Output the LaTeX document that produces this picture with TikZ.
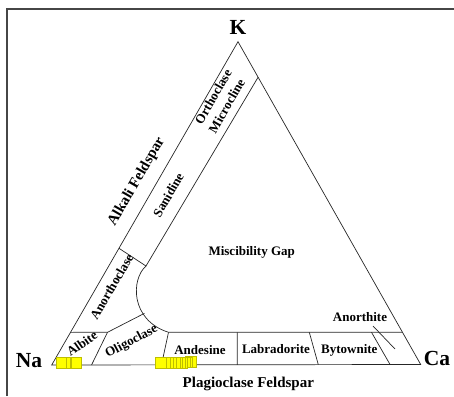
\documentclass[tikz,border=0pt]{standalone}
\usepackage{fontspec}
\setmainfont{Liberation Serif}
\usetikzlibrary{calc}
\definecolor{sqfill}{RGB}{255,255,0}
\definecolor{sqedge}{RGB}{190,190,0}
\definecolor{framec}{RGB}{70,70,70}
\tikzset{
  lbl/.style={inner sep=0pt, font=\fontsize{13}{13}\selectfont\bfseries},
  big/.style={inner sep=0pt, font=\fontsize{15}{15}\selectfont\bfseries},
  apex/.style={inner sep=0pt, font=\fontsize{21.5}{21.5}\selectfont\bfseries},
  edge/.style={draw=black!85, line width=0.7pt},
  sq/.style={fill=sqfill, draw=sqedge, line width=0.6pt},
}
\begin{document}
\begin{tikzpicture}[x=1pt,y=-1pt]
\useasboundingbox (0,0) rectangle (454,396);
% frame
\draw[framec, line width=1.6pt] (7,396) -- (7,9) -- (454,9);
% vertices
\coordinate (K) at (238,41.7);
\coordinate (Na) at (51.7,365);
\coordinate (Ca) at (420.7,364.5);
\draw[edge] (Na) -- (K) -- (Ca) -- cycle;
% alkali band
\coordinate (A1) at ($(K)!0.110!(Ca)$);
\coordinate (A2) at (146,266);
\coordinate (A3) at ($(K)!0.639!(Na)$);
\draw[edge] (A1) -- (A2);
\draw[edge] (A3) -- (A2);
% curve
\coordinate (P1) at (168.5,332.3);
\draw[edge] (A2) .. controls (131,279) and (130,320) .. (P1);
% plagioclase band
\coordinate (L1) at ($(K)!0.899!(Na)$);
\coordinate (R1) at ($(K)!0.900!(Ca)$);
\coordinate (O1) at (144.5,313.3);
\coordinate (O2) at (107.5,332.3);
\draw[edge] (L1) -- (O2) -- (O1);
\draw[edge] (P1) -- (R1);
\coordinate (B1) at ($(Na)!0.108!(Ca)$);
\draw[edge] (O2) -- (B1);
\coordinate (B2) at ($(Na)!0.2975!(Ca)$);
\draw[edge] (P1) -- (B2);
\coordinate (T3) at (237.3,332.3);
\coordinate (B3) at ($(Na)!0.503!(Ca)$);
\draw[edge] (T3) -- (B3);
\coordinate (T4) at (309.3,332.3);
\coordinate (B4) at ($(Na)!0.7225!(Ca)$);
\draw[edge] (T4) -- (B4);
\coordinate (T5) at (371.5,332.3);
\coordinate (B5) at ($(Na)!0.917!(Ca)$);
\draw[edge] (T5) -- (B5);
\coordinate (S1) at (373,326);
\coordinate (S2) at (395,349);
\draw[edge] (S1) -- (S2);
% yellow squares
\draw[sq] (59.7,357.5) rectangle (70.7,368.3);
\draw[sq] (56.7,357.5) rectangle (66.3,368.3);
\draw[sq] (71.7,357.5) rectangle (81.7,368.3);
\foreach \x/\t in {185/356.7,181.7/356.8,179/356.9,176.3/357,174/357.1,171.7/357.2,169/357.3,165.7/357.4,162.3/357.5,159/357.5,155.7/357.5}
  \draw[sq] (\x,\t) rectangle ++(11,10.8);
% labels
\node[apex] (lK) at (238,27) {K};
\node[apex] (lNa) at (29,361) {Na};
\node[apex] (lCa) at (437,358) {Ca};
\node[big] (lPlag) at (248.3,384) {Plagioclase Feldspar};
\node[big, rotate=60] (lAlk) at (136.7,181.7) {Alkali Feldspar};
\node[lbl, rotate=60] (lOrth) at (213.3,96.7) {Orthoclase};
\node[lbl, rotate=60] (lMicro) at (226.7,106) {Microcline};
\node[lbl, rotate=60] (lSan) at (168.3,195) {Sanidine};
\node[lbl] (lMisc) at (251.7,252.7) {Miscibility Gap};
\node[lbl, rotate=60] (lAnor) at (111.7,286.7) {Anorthoclase};
\node[lbl, rotate=35] (lAlb) at (82,343.3) {Albite};
\node[lbl, rotate=28] (lOlig) at (131.7,341.7) {Oligoclase};
\node[lbl] (lAnd) at (200,350) {Andesine};
\node[lbl] (lLab) at (276,349.3) {Labradorite};
\node[lbl] (lByt) at (349.3,350) {Bytownite};
\node[lbl] (lAnth) at (360,316.7) {Anorthite};
\end{tikzpicture}
\end{document}
